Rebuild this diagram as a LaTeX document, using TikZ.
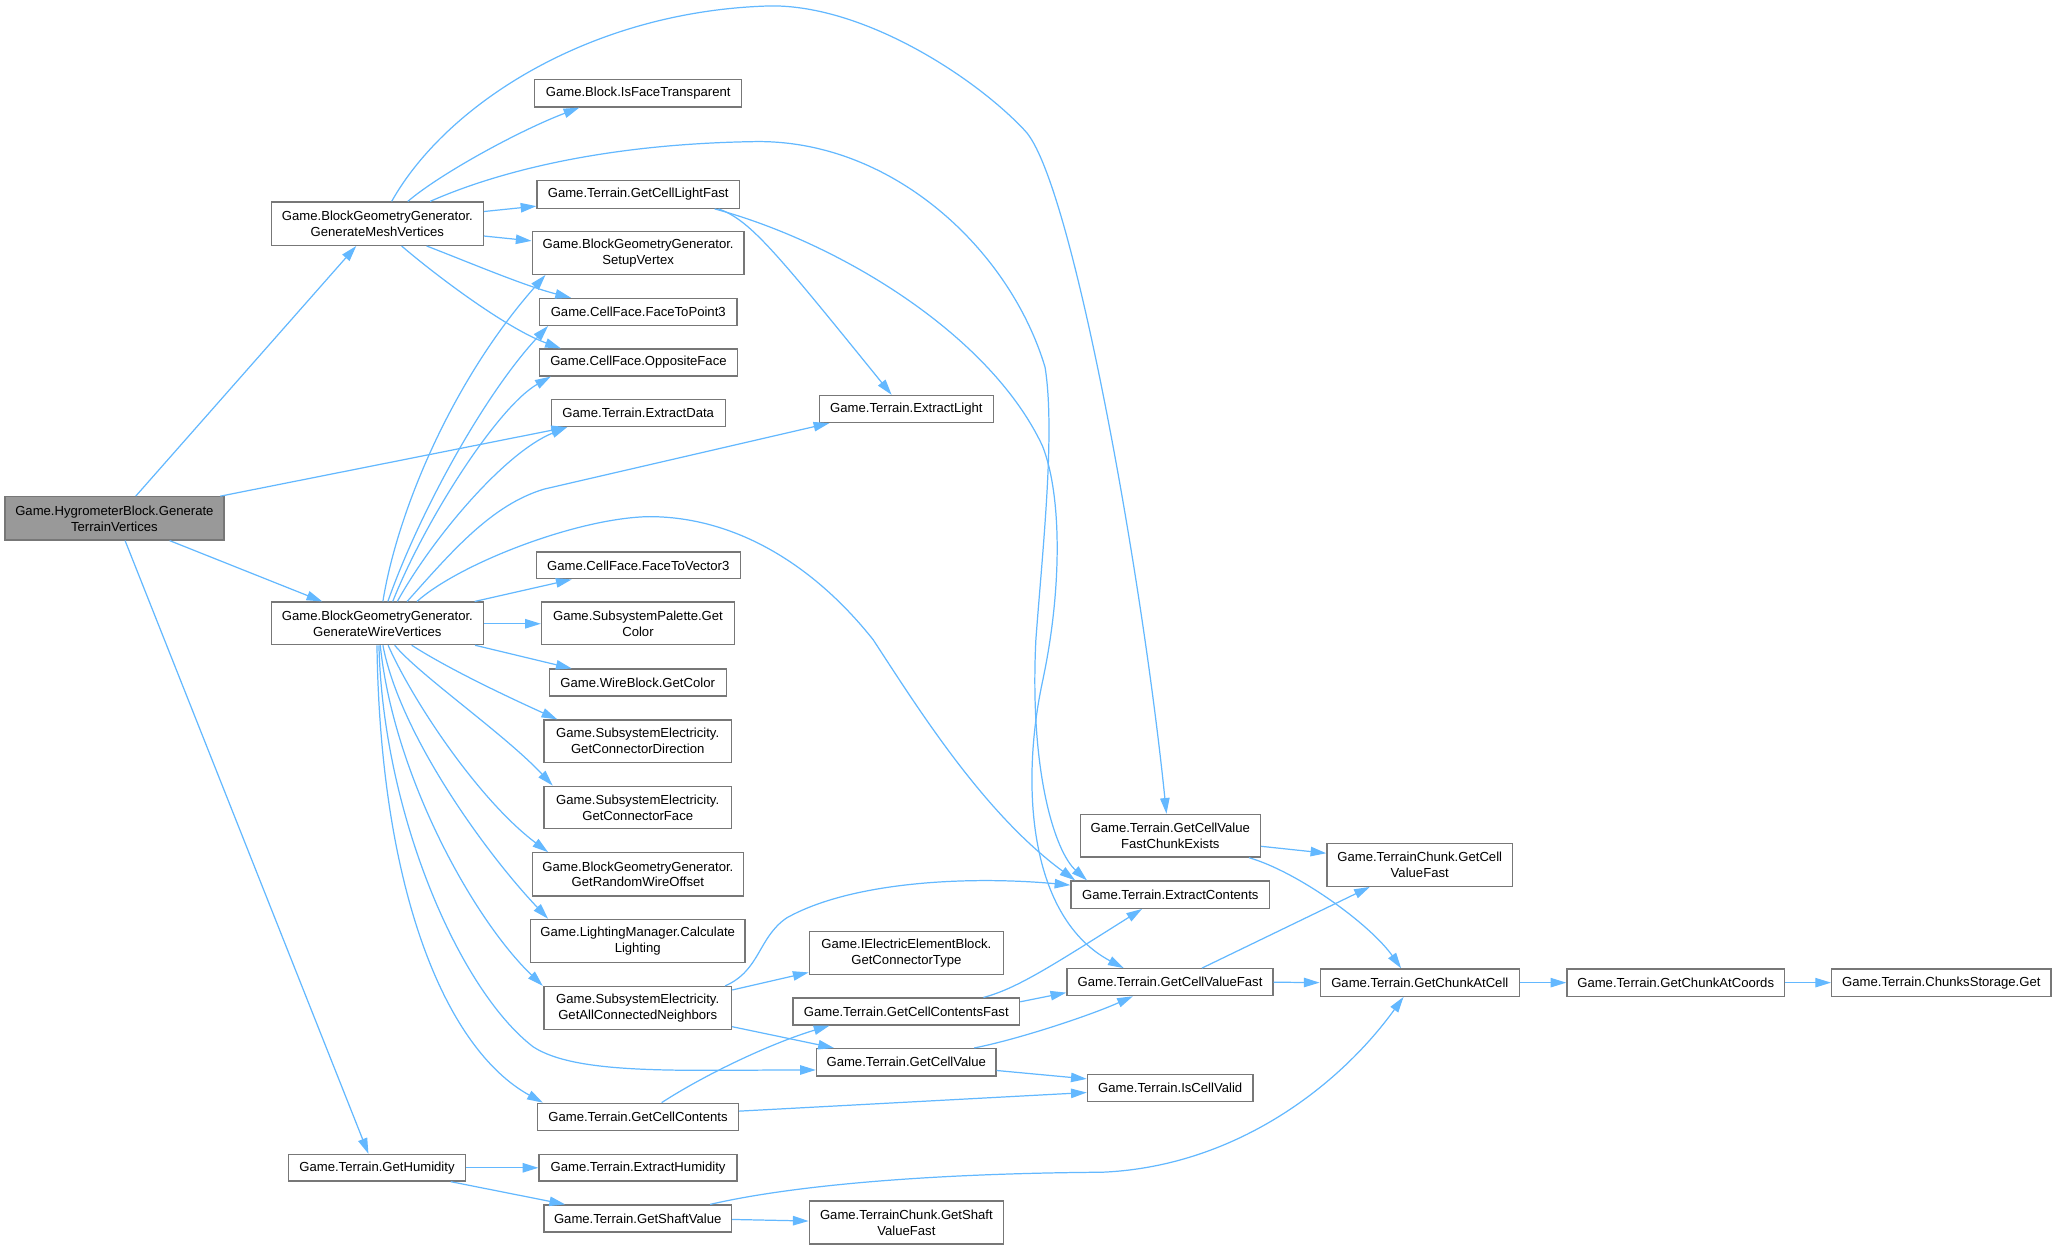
\documentclass[tikz,border=0pt]{standalone}
\usepackage{fontspec}
\setmainfont{Liberation Sans}
\usetikzlibrary{arrows.meta}
\definecolor{edgeblue}{HTML}{63B8FF}
\definecolor{boxgray}{HTML}{777777}
\definecolor{mainfill}{HTML}{999999}
\newcommand{\dnode}[7][]{\node[box,#1,minimum width={(#5-#3)*0.75pt},minimum height={(#6-#4)*0.75pt}] (#2) at ({(#3+#5)/2},{(#4+#6)/2}) {#7};}
\begin{document}
\begin{tikzpicture}[x=0.75pt,y=-0.75pt,
  box/.style={draw=boxgray,fill=white,line width=0.75pt,inner sep=0pt,align=center,font=\fontsize{7.5pt}{9.1pt}\selectfont},
  mainbox/.style={fill=mainfill},
  edge/.style={draw=edgeblue,line width=0.7pt,-{Triangle[length=9pt,width=5.4pt]}}]
\useasboundingbox (0,0) rectangle (1568,952.5);
% column 1
\dnode[mainbox]{N0}{3.7}{378.9}{170.8}{411.8}{Game.HygrometerBlock.Generate\\TerrainVertices}
% column 2
\dnode{M}{207}{154.1}{368.6}{187.1}{Game.BlockGeometryGenerator.\\GenerateMeshVertices}
\dnode{W}{207}{459.2}{368.6}{491.6}{Game.BlockGeometryGenerator.\\GenerateWireVertices}
\dnode{H}{220}{880.5}{355}{900.7}{Game.Terrain.GetHumidity}
% column 3
\dnode{IFT}{407.8}{60.7}{565.6}{81.6}{Game.Block.IsFaceTransparent}
\dnode{GCLF}{409.6}{137.9}{563.8}{158.8}{Game.Terrain.GetCellLightFast}
\dnode{SV}{405.9}{176.5}{567.5}{209.2}{Game.BlockGeometryGenerator.\\SetupVertex}
\dnode{FTP}{411.5}{227.6}{562}{248.1}{Game.CellFace.FaceToPoint3}
\dnode{OF}{411.5}{266.2}{562.3}{286.7}{Game.CellFace.OppositeFace}
\dnode{ED}{420.4}{304.8}{553.1}{325.3}{Game.Terrain.ExtractData}
\dnode{FTV}{408.9}{420.9}{564.6}{441.4}{Game.CellFace.FaceToVector3}
\dnode{SPGC}{413}{459.2}{560.1}{491.6}{Game.SubsystemPalette.Get\\Color}
\dnode{WBGC}{418.9}{510.3}{553.8}{530.8}{Game.WireBlock.GetColor}
\dnode{GCD}{414.8}{549.1}{557.9}{581.3}{Game.SubsystemElectricity.\\GetConnectorDirection}
\dnode{GCF}{414.8}{599.6}{557.9}{632.1}{Game.SubsystemElectricity.\\GetConnectorFace}
\dnode{GRWO}{405.9}{650.4}{567.1}{683.2}{Game.BlockGeometryGenerator.\\GetRandomWireOffset}
\dnode{LMCL}{404.5}{701.2}{568.2}{733.8}{Game.LightingManager.Calculate\\Lighting}
\dnode{GACN}{414.8}{752.4}{557.9}{784.9}{Game.SubsystemElectricity.\\GetAllConnectedNeighbors}
\dnode{GCC}{410}{841.4}{563.1}{861.9}{Game.Terrain.GetCellContents}
\dnode{EH}{411.1}{880.5}{562.1}{900.7}{Game.Terrain.ExtractHumidity}
\dnode{GSV}{414.8}{919}{557.9}{939.5}{Game.Terrain.GetShaftValue}
% column 4
\dnode{EL}{625}{301.6}{757.5}{322.2}{Game.Terrain.ExtractLight}
\dnode{IEGCT}{617.2}{710.4}{765.3}{743.2}{Game.IElectricElementBlock.\\GetConnectorType}
\dnode{GCCF}{604.7}{761.2}{777.6}{781.7}{Game.Terrain.GetCellContentsFast}
\dnode{GCV}{622.7}{799.7}{759.6}{820.6}{Game.Terrain.GetCellValue}
\dnode{TCGSVF}{617.2}{915.9}{765.3}{948.7}{Game.TerrainChunk.GetShaft\\ValueFast}
% column 5
\dnode{GCVFCE}{823.9}{621.1}{961.1}{653.6}{Game.Terrain.GetCellValue\\FastChunkExists}
\dnode{EC}{816.8}{671.9}{968.2}{692.7}{Game.Terrain.ExtractContents}
\dnode{GCVF}{813.7}{738.8}{970.9}{759.3}{Game.Terrain.GetCellValueFast}
\dnode{ICV}{829.3}{819.3}{955.6}{839.8}{Game.Terrain.IsCellValid}
% column 6+
\dnode{TCGCVF}{1012}{643.4}{1153.5}{675.9}{Game.TerrainChunk.GetCell\\ValueFast}
\dnode{GCAC}{1006.9}{739}{1158.7}{759.8}{Game.Terrain.GetChunkAtCell}
\dnode{GCACo}{1195}{739}{1360.9}{759.8}{Game.Terrain.GetChunkAtCoords}
\dnode{CSG}{1396.9}{739}{1564.2}{759.8}{Game.Terrain.ChunksStorage.Get}

% edges from HygrometerBlock
\draw[edge] (N0.north -| 103.5,0) -- (M.south -| 271.7,0);
\draw[edge] (N0.north -| 168,0) -- (ED.south -| 432.5,0);
\draw[edge] (N0.south -| 129.4,0) -- (W.north -| 245.8,0);
\draw[edge] (N0.south -| 95.4,0) -- (H.north -| 281,0);

% edges from GenerateMeshVertices
\draw[edge] (M.north -| 311,0) .. controls (335,133) and (395,100) .. (IFT.south -| 441.8,0);
\draw[edge] (M.east |- 0,161.3) -- (GCLF.west |- 0,157.2);
\draw[edge] (M.east |- 0,180) -- (SV.west |- 0,183.7);
\draw[edge] (M.south -| 325.4,0) .. controls (360,201) and (400,218) .. (FTP.north -| 435.5,0);
\draw[edge] (M.south -| 306.3,0) .. controls (330,208) and (385,250) .. (OF.north -| 427.7,0);
\draw[edge] (M.north -| 298.7,0) .. controls (340,80) and (450,8) .. (588,4.5)
  .. controls (660,4) and (745,60) .. (782,100)
  .. controls (817,138) and (870,430) .. (GCVFCE.north -| 889.6,0);
\draw[edge] (M.north -| 328,0) .. controls (370,135) and (450,110) .. (575,108)
  .. controls (680,106) and (770,190) .. (797,280)
  .. controls (805,330) and (795,420) .. (790,488)
  .. controls (785,590) and (805,650) .. (EC.north -| 829,0);

% edges from GetCellLightFast
\draw[edge] (GCLF.south -| 548,0) .. controls (572,168) and (590,190) .. (EL.north -| 680,0);
\draw[edge] (GCLF.south -| 545,0) .. controls (640,185) and (755,255) .. (795,340)
  .. controls (810,378) and (810,450) .. (795,520)
  .. controls (778,600) and (785,700) .. (GCVF.north -| 857,0);

% edges from GenerateWireVertices (upwards)
\draw[edge] (W.north -| 292,0) .. controls (303,390) and (345,290) .. (SV.south -| 416,0);
\draw[edge] (W.north -| 295.8,0) .. controls (320,390) and (370,300) .. (FTP.south -| 418,0);
\draw[edge] (W.north -| 299.5,0) .. controls (325,395) and (380,310) .. (OF.south -| 420,0);
\draw[edge] (W.north -| 303,0) .. controls (330,410) and (385,345) .. (ED.south -| 432.5,0);
\draw[edge] (W.north -| 310.5,0) .. controls (345,420) and (375,385) .. (415,373) -- (EL.south -| 632.5,0);
\draw[edge] (W.north -| 318,0) .. controls (350,430) and (440,395) .. (495,394)
  .. controls (560,394) and (620,430) .. (666,488)
  .. controls (700,540) and (750,620) .. (EC.north -| 820,0);
\draw[edge] (W.north -| 362,0) -- (FTV.south -| 436,0);
\draw[edge] (W.east |- 0,475.7) -- (SPGC.west |- 0,475.7);
% edges from GenerateWireVertices (downwards)
\draw[edge] (W.south -| 362.3,0) -- (WBGC.north -| 436,0);
\draw[edge] (W.south -| 314,0) .. controls (345,512) and (395,535) .. (GCD.north -| 425,0);
\draw[edge] (W.south -| 301,0) .. controls (320,515) and (385,560) .. (GCF.north -| 421.5,0);
\draw[edge] (W.south -| 296,0) .. controls (315,535) and (365,610) .. (GRWO.north -| 418,0);
\draw[edge] (W.south -| 292,0) .. controls (305,560) and (370,650) .. (LMCL.north -| 418,0);
\draw[edge] (W.south -| 290,0) .. controls (300,590) and (360,700) .. (GACN.north -| 414,0);
\draw[edge] (W.south -| 289,0) .. controls (292,620) and (350,755) .. (406.7,798.4)
  .. controls (440,820) and (520,816) .. (GCV.west |- 0,816);
\draw[edge] (W.south -| 287.5,0) .. controls (290,680) and (340,800) .. (GCC.north -| 414,0);

% edges from GetAllConnectedNeighbors
\draw[edge] (GACN.north -| 553,0) .. controls (580,740) and (578,715) .. (600,700)
  .. controls (650,672) and (740,668) .. (EC.west |- 0,675);
\draw[edge] (GACN.east |- 0,755) -- (IEGCT.west |- 0,741.6);
\draw[edge] (GACN.east |- 0,783) -- (GCV.north -| 636,0);

% edges from GetCellContents
\draw[edge] (GCC.north -| 504.6,0) .. controls (540,818) and (590,795) .. (GCCF.south -| 632.6,0);
\draw[edge] (GCC.east |- 0,847.4) -- (ICV.west |- 0,833.2);

% edges from GetCellContentsFast
\draw[edge] (GCCF.north -| 750,0) .. controls (775,754) and (800,738) .. (EC.south -| 871,0);
\draw[edge] (GCCF.east |- 0,764) -- (GCVF.west |- 0,757);

% edges from GetCellValue
\draw[edge] (GCV.north -| 743,0) .. controls (775,793) and (830,775) .. (GCVF.south -| 864,0);
\draw[edge] (GCV.east |- 0,816.4) -- (ICV.west |- 0,822.8);

% edges from GetCellValueFastChunkExists
\draw[edge] (GCVFCE.east |- 0,645.4) -- (TCGCVF.west |- 0,650.7);
\draw[edge] (GCVFCE.south -| 952.5,0) .. controls (990,665) and (1045,705) .. (GCAC.north -| 1068.6,0);

% edges from GetCellValueFast and chain
\draw[edge] (GCVF.north -| 916.7,0) -- (TCGCVF.south -| 1044.7,0);
\draw[edge] (GCVF.east) -- (GCAC.west);
\draw[edge] (GCAC.east) -- (GCACo.west);
\draw[edge] (GCACo.east) -- (CSG.west);

% edges from GetHumidity
\draw[edge] (H.east) -- (EH.west);
\draw[edge] (H.south -| 343.8,0) -- (GSV.north -| 431,0);

% edges from GetShaftValue
\draw[edge] (GSV.north -| 541.6,0) .. controls (600,905) and (700,895) .. (840,894)
  .. controls (940,890) and (1020,830) .. (GCAC.south -| 1070.4,0);
\draw[edge] (GSV.east |- 0,930) -- (TCGSVF.west |- 0,931.2);
\end{tikzpicture}
\end{document}
